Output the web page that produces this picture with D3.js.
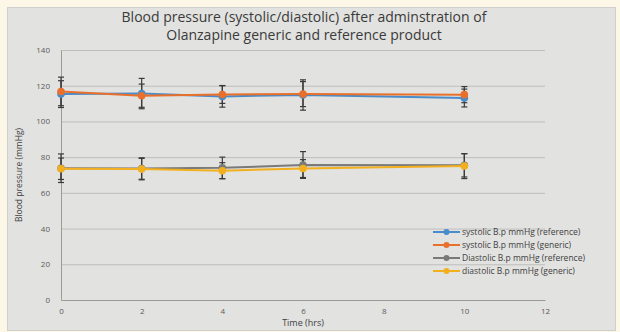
<!DOCTYPE html>
<html>
<head>
<meta charset="utf-8">
<script src="https://cdn.jsdelivr.net/npm/d3@7"></script>
<style>
  body { margin: 0; background: #fcf7e6; }
  svg { display: block; }
  text { font-family: "Open Sans", "Liberation Sans", sans-serif; }
</style>
</head>
<body>
<div id="chart"></div>
<script>
'use strict';

// time points (hrs)
var times = [0, 2, 4, 6, 10];
var xTicks = [0, 2, 4, 6, 8, 10, 12];
var yTicks = [0, 20, 40, 60, 80, 100, 120, 140];

var seriesNames = [
    "systolic B.p mmHg (reference)",
    "systolic B.p mmHg (generic)",
    "Diastolic B.p mmHg (reference)",
    "diastolic B.p mmHg (generic)"
];

// means
var sysRef = [115.3, 115.6, 114.0, 114.8, 113.1];
var sysGen = [116.8, 114.4, 115.1, 115.3, 115.0];
var diaRef = [73.8, 73.6, 74.0, 75.6, 75.4];
var diaGen = [73.5, 73.3, 72.4, 73.6, 75.0];

// standard deviations (error bars)
var sysRefErr = [7.5, 8.5, 6.0, 8.5, 5.0];
var sysGenErr = [8.0, 6.5, 5.0, 7.0, 4.5];
var diaRefErr = [8.0, 6.0, 6.0, 7.5, 6.5];
var diaGenErr = [6.0, 6.0, 4.5, 5.0, 7.0];

(function() {
    var W = 620, H = 332;
    var colors = ["#4a8bc9", "#e8702a", "#7a7a7a", "#f2b01e"];
    var values = [sysRef, sysGen, diaRef, diaGen];
    var errs = [sysRefErr, sysGenErr, diaRefErr, diaGenErr];

    var margin = { left: 61, right: 75, top: 50, bottom: 32 };

    var svg = d3.select("#chart").append("svg")
        .attr("width", W)
        .attr("height", H);

    // chart area (grey panel)
    svg.append("rect")
        .attr("x", 7.5).attr("y", 7.5)
        .attr("width", 608).attr("height", 323)
        .attr("fill", "#e2e2e0")
        .attr("stroke", "#cfcfcb");

    var x = d3.scaleLinear().domain([0, 12]).range([margin.left, W - margin.right]);
    var y = d3.scaleLinear().domain([0, 140]).range([H - margin.bottom, margin.top]);

    // gridlines
    svg.append("g").selectAll("line")
        .data(yTicks.filter(function(d) { return d > 0; }))
        .enter().append("line")
        .attr("x1", x(0)).attr("x2", x(12))
        .attr("y1", function(d) { return y(d) + 0.5; })
        .attr("y2", function(d) { return y(d) + 0.5; })
        .attr("stroke", "#bdbdbd")
        .attr("stroke-width", 1);

    // axes
    var yAxis = svg.append("g")
        .attr("transform", "translate(" + x(0) + ",0)")
        .call(d3.axisLeft(y).tickValues(yTicks).tickSize(0).tickPadding(11));
    var xAxis = svg.append("g")
        .attr("transform", "translate(0," + y(0) + ")")
        .call(d3.axisBottom(x).tickValues(xTicks).tickSize(0).tickPadding(8));

    [yAxis, xAxis].forEach(function(a) {
        a.select(".domain").attr("stroke", "#9a9a9a");
        a.selectAll("text")
            .attr("fill", "#5a5a5a")
            .style("font-size", "8px");
    });

    // titles
    var title = svg.append("text")
        .attr("x", 304).attr("y", 22)
        .attr("text-anchor", "middle")
        .attr("fill", "#3a3a3a")
        .style("font-size", "14px");
    title.append("tspan").attr("x", 304).text("Blood pressure (systolic/diastolic) after adminstration of");
    title.append("tspan").attr("x", 304).attr("dy", 18).text("Olanzapine generic and reference product");

    svg.append("text")
        .attr("transform", "translate(22," + y(70) + ") rotate(-90)")
        .attr("text-anchor", "middle")
        .attr("fill", "#404040")
        .style("font-size", "8.5px")
        .text("Blood pressure (mmHg)");

    svg.append("text")
        .attr("x", x(6)).attr("y", 326)
        .attr("text-anchor", "middle")
        .attr("fill", "#404040")
        .style("font-size", "9px")
        .text("Time (hrs)");

    var line = d3.line()
        .x(function(d, i) { return x(times[i]); })
        .y(function(d) { return y(d); });

    // error bars
    values.forEach(function(vals, s) {
        var g = svg.append("g").attr("stroke", "#3a3a3a").attr("stroke-width", 1.2);
        vals.forEach(function(v, i) {
            var cx = x(times[i]);
            var lo = y(v - errs[s][i]), hi = y(v + errs[s][i]);
            g.append("line").attr("x1", cx).attr("x2", cx).attr("y1", lo).attr("y2", hi);
            g.append("line").attr("x1", cx - 3).attr("x2", cx + 3).attr("y1", lo).attr("y2", lo);
            g.append("line").attr("x1", cx - 3).attr("x2", cx + 3).attr("y1", hi).attr("y2", hi);
        });
    });

    // series lines + markers
    values.forEach(function(vals, s) {
        svg.append("path")
            .datum(vals)
            .attr("d", line)
            .attr("fill", "none")
            .attr("stroke", colors[s])
            .attr("stroke-width", 2);
        svg.append("g").selectAll("circle")
            .data(vals)
            .enter().append("circle")
            .attr("cx", function(d, i) { return x(times[i]); })
            .attr("cy", function(d) { return y(d); })
            .attr("r", 3.8)
            .attr("fill", colors[s]);
    });

    // legend
    var legend = svg.append("g").attr("transform", "translate(433,232)");
    seriesNames.forEach(function(name, i) {
        var row = legend.append("g").attr("transform", "translate(0," + (i * 13) + ")");
        row.append("line").attr("x1", 0).attr("x2", 27)
            .attr("stroke", colors[i]).attr("stroke-width", 2);
        row.append("circle").attr("cx", 13.5).attr("r", 3).attr("fill", colors[i]);
        row.append("text").attr("x", 29).attr("y", 3)
            .attr("fill", "#404040")
            .style("font-size", "8.5px")
            .text(name);
    });
})();
</script>
</body>
</html>
